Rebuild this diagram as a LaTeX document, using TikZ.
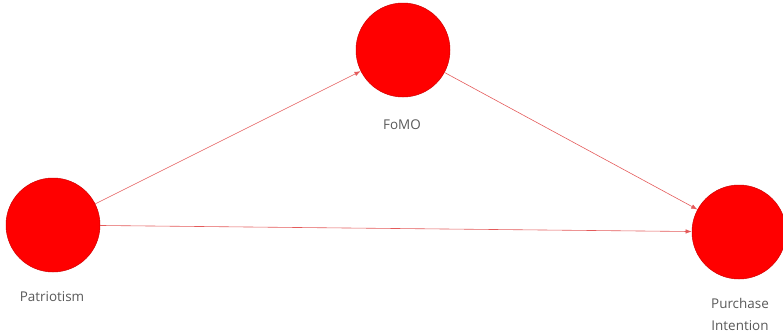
\documentclass[tikz,border=0pt]{standalone}
\usepackage{fontspec}
\setmainfont{Open Sans}
\usetikzlibrary{arrows.meta,positioning}
\definecolor{Fill}{HTML}{FF0000}
\definecolor{Edge}{HTML}{D00000}
\definecolor{Link}{HTML}{E45A5A}
\definecolor{Label}{HTML}{595959}
\tikzset{>=Latex,
 every node/.style={font=\fontsize{13.5}{22}\selectfont,text=Label},
 arr/.style={-{Latex[length=2.2mm,width=1.6mm]},line width=.6pt,draw=Link},
 var/.style={circle,fill=Fill,draw=Edge,line width=.5pt,minimum size=94bp,inner sep=0pt},
 tag/.style={align=center,inner sep=1pt},
 }

\begin{document}
\begin{tikzpicture}[x=1bp,y=-1bp]
 \useasboundingbox (0,0) rectangle (783,334);
 \node[var] (pat) at (53,225) {};
 \node[var] (fomo) at (403,50) {};
 \node[var] (pi) at (739,232) {};
 \node[tag] (patlab) at (52,297) {Patriotism};
 \node[tag] (fomolab) at (402,125) {FoMO};
 \node[tag] (pilab) at (740,314) {Purchase\\Intention};
 \draw[arr] (pat) -- (fomo);
 \draw[arr] (pat) -- (pi);
 \draw[arr] (fomo) -- (pi);
\end{tikzpicture}
\end{document}
